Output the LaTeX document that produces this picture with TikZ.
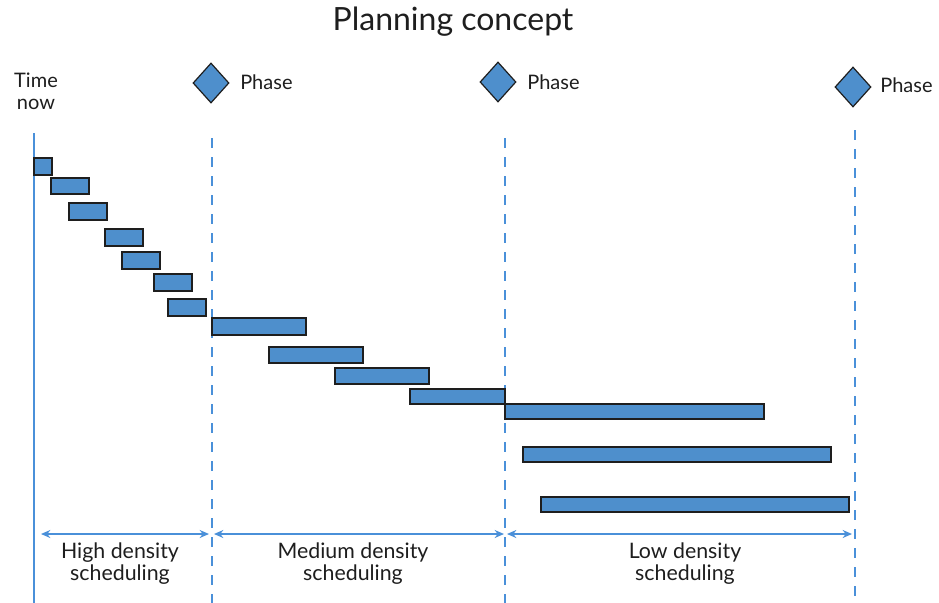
\documentclass[tikz,border=0pt]{standalone}
\usepackage{fontspec}
\setmainfont{Lato}
\usetikzlibrary{shapes.geometric,fit,arrows.meta}
\definecolor{bluefill}{RGB}{78,143,204}
\definecolor{blueline}{RGB}{74,144,217}
\definecolor{ink}{RGB}{30,30,30}
\begin{document}
\begin{tikzpicture}[x=0.75pt,y=-0.75pt,
  task/.style={draw=ink, fill=bluefill, line width=0.9pt, inner sep=0pt},
  phase/.style={diamond, draw=ink, fill=bluefill, line width=0.9pt, inner sep=0pt, minimum width=27pt, minimum height=30pt},
  lbl/.style={font=\fontsize{15}{16.5}\selectfont, text=ink, inner sep=0pt},
  blbl/.style={font=\fontsize{16}{16.5}\selectfont, text=ink, inner sep=0pt, align=center},
  divider/.style={blueline, line width=1.6pt, dash pattern=on 7.5pt off 6.75pt},
  span/.style={blueline, line width=1.8pt, {Stealth[length=7pt,width=6pt]}-{Stealth[length=7pt,width=6pt]}}
]
\useasboundingbox (0,0) rectangle (939,603);
\fill[white] (0,0) rectangle (939,603);

% title
\node[font=\fontsize{24}{28}\selectfont, text=ink] (title) at (453,22) {Planning concept};

% time now
\node[lbl, align=center] (tn) at (36,91) {Time\\now};
\coordinate (tnTop) at (34,133);
\coordinate (tnBot) at (34,603);
\draw[blueline, line width=1pt] (tnTop) -- (tnBot);

% phases
\node[phase] (d1) at (211,83) {};
\node[phase] (d2) at (498,82) {};
\node[phase] (d3) at (853,87) {};
\node[lbl, anchor=west] (p1) at (240,82) {Phase};
\node[lbl, anchor=west] (p2) at (527,82) {Phase};
\node[lbl, anchor=west] (p3) at (880,85) {Phase};

% dividers
\coordinate (v1t) at (212,138); \coordinate (v1b) at (212,603);
\coordinate (v2t) at (505,138); \coordinate (v2b) at (505,603);
\coordinate (v3t) at (855,130); \coordinate (v3b) at (855,603);
\draw[divider] (v1t) -- (v1b);
\draw[divider] (v2t) -- (v2b);
\draw[divider] (v3t) -- (v3b);

% tasks
\node[task, fit={(34,158) (52,175)}] (t1) {};
\node[task, fit={(51,178) (89,194)}] (t2) {};
\node[task, fit={(69,203) (107,220)}] (t3) {};
\node[task, fit={(105,229) (143,246)}] (t4) {};
\node[task, fit={(122,252) (160,269)}] (t5) {};
\node[task, fit={(154,274) (192,291)}] (t6) {};
\node[task, fit={(168,299) (206,316)}] (t7) {};
\node[task, fit={(212,318) (306,335)}] (t8) {};
\node[task, fit={(269,347) (363,363)}] (t9) {};
\node[task, fit={(335,368) (429,384)}] (t10) {};
\node[task, fit={(410,389) (505,404)}] (t11) {};
\node[task, fit={(505,404) (764,419)}] (t12) {};
\node[task, fit={(523,447) (831,462)}] (t13) {};
\node[task, fit={(541,497) (849,512)}] (t14) {};

% spans
\coordinate (a1l) at (41,534); \coordinate (a1r) at (209,534);
\coordinate (a2l) at (214,534); \coordinate (a2r) at (504,534);
\coordinate (a3l) at (507,534); \coordinate (a3r) at (852,534);
\draw[span] (a1l) -- (a1r);
\draw[span] (a2l) -- (a2r);
\draw[span] (a3l) -- (a3r);

\node[blbl] (s1) at (120,564) {High density\\scheduling};
\node[blbl] (s2) at (353,564) {Medium density\\scheduling};
\node[blbl] (s3) at (685,564) {Low density\\scheduling};
\end{tikzpicture}
\end{document}
